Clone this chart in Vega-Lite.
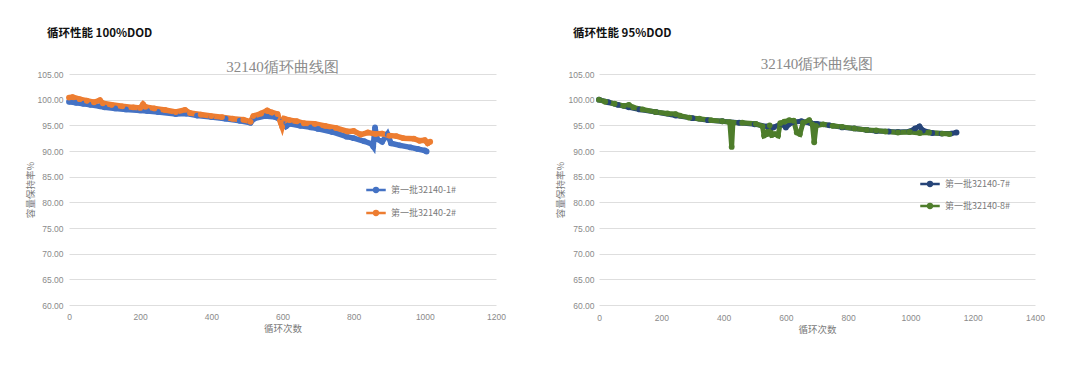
{
  "$schema": "https://vega.github.io/schema/vega-lite/v6.json",
  "background": "white",
  "padding": {"left": 25, "top": 27, "right": 10, "bottom": 5},
  "spacing": 49,
  "config": {
    "view": {"stroke": null},
    "axis": {"labelFont": "Liberation Sans", "labelFontSize": 8.5, "labelColor": "#8a8a8a", "titleFont": "Noto Sans CJK SC", "titleFontSize": 9.5, "titleFontWeight": "normal", "titleColor": "#7a7a7a", "ticks": false, "domain": false, "gridColor": "#dedede", "gridWidth": 1, "labelFlush": false},
    "legend": {"labelFont": "Noto Sans CJK SC", "labelFontSize": 9, "labelColor": "#7a7a7a", "symbolType": "M-1,0L1,0M-0.2,0a0.2,0.2 0 1,0 0.4,0a0.2,0.2 0 1,0 -0.4,0", "symbolSize": 380, "symbolStrokeWidth": 2.4, "title": null}
  },
  "datasets": {
    "d100": [
      {"cycle": 0, "capacity": 99.6, "series": "第一批32140-1#"},
      {"cycle": 20, "capacity": 99.4, "series": "第一批32140-1#"},
      {"cycle": 40, "capacity": 99.2, "series": "第一批32140-1#"},
      {"cycle": 60, "capacity": 99.0, "series": "第一批32140-1#"},
      {"cycle": 87, "capacity": 98.7, "series": "第一批32140-1#"},
      {"cycle": 100, "capacity": 98.5, "series": "第一批32140-1#"},
      {"cycle": 130, "capacity": 98.3, "series": "第一批32140-1#"},
      {"cycle": 160, "capacity": 98.1, "series": "第一批32140-1#"},
      {"cycle": 200, "capacity": 97.9, "series": "第一批32140-1#"},
      {"cycle": 220, "capacity": 97.8, "series": "第一批32140-1#"},
      {"cycle": 250, "capacity": 97.6, "series": "第一批32140-1#"},
      {"cycle": 300, "capacity": 97.2, "series": "第一批32140-1#"},
      {"cycle": 330, "capacity": 97.3, "series": "第一批32140-1#"},
      {"cycle": 360, "capacity": 96.9, "series": "第一批32140-1#"},
      {"cycle": 400, "capacity": 96.6, "series": "第一批32140-1#"},
      {"cycle": 440, "capacity": 96.3, "series": "第一批32140-1#"},
      {"cycle": 480, "capacity": 95.9, "series": "第一批32140-1#"},
      {"cycle": 510, "capacity": 95.5, "series": "第一批32140-1#"},
      {"cycle": 520, "capacity": 96.3, "series": "第一批32140-1#"},
      {"cycle": 550, "capacity": 96.8, "series": "第一批32140-1#"},
      {"cycle": 580, "capacity": 96.6, "series": "第一批32140-1#"},
      {"cycle": 600, "capacity": 95.8, "series": "第一批32140-1#"},
      {"cycle": 610, "capacity": 94.8, "series": "第一批32140-1#"},
      {"cycle": 620, "capacity": 95.3, "series": "第一批32140-1#"},
      {"cycle": 650, "capacity": 94.9, "series": "第一批32140-1#"},
      {"cycle": 680, "capacity": 94.6, "series": "第一批32140-1#"},
      {"cycle": 700, "capacity": 94.3, "series": "第一批32140-1#"},
      {"cycle": 740, "capacity": 93.7, "series": "第一批32140-1#"},
      {"cycle": 780, "capacity": 92.8, "series": "第一批32140-1#"},
      {"cycle": 800, "capacity": 92.5, "series": "第一批32140-1#"},
      {"cycle": 830, "capacity": 91.9, "series": "第一批32140-1#"},
      {"cycle": 850, "capacity": 91.4, "series": "第一批32140-1#"},
      {"cycle": 855, "capacity": 90.9, "series": "第一批32140-1#"},
      {"cycle": 860, "capacity": 94.6, "series": "第一批32140-1#"},
      {"cycle": 866, "capacity": 92.3, "series": "第一批32140-1#"},
      {"cycle": 880, "capacity": 91.8, "series": "第一批32140-1#"},
      {"cycle": 895, "capacity": 93.3, "series": "第一批32140-1#"},
      {"cycle": 905, "capacity": 91.5, "series": "第一批32140-1#"},
      {"cycle": 930, "capacity": 91.1, "series": "第一批32140-1#"},
      {"cycle": 960, "capacity": 90.7, "series": "第一批32140-1#"},
      {"cycle": 980, "capacity": 90.4, "series": "第一批32140-1#"},
      {"cycle": 1000, "capacity": 90.1, "series": "第一批32140-1#"},
      {"cycle": 1005, "capacity": 89.9, "series": "第一批32140-1#"},
      {"cycle": 0, "capacity": 100.4, "series": "第一批32140-2#"},
      {"cycle": 10, "capacity": 100.5, "series": "第一批32140-2#"},
      {"cycle": 30, "capacity": 100.1, "series": "第一批32140-2#"},
      {"cycle": 50, "capacity": 99.8, "series": "第一批32140-2#"},
      {"cycle": 70, "capacity": 99.5, "series": "第一批32140-2#"},
      {"cycle": 87, "capacity": 99.9, "series": "第一批32140-2#"},
      {"cycle": 95, "capacity": 99.3, "series": "第一批32140-2#"},
      {"cycle": 120, "capacity": 99.0, "series": "第一批32140-2#"},
      {"cycle": 150, "capacity": 98.7, "series": "第一批32140-2#"},
      {"cycle": 180, "capacity": 98.5, "series": "第一批32140-2#"},
      {"cycle": 200, "capacity": 98.4, "series": "第一批32140-2#"},
      {"cycle": 208, "capacity": 99.1, "series": "第一批32140-2#"},
      {"cycle": 215, "capacity": 98.6, "series": "第一批32140-2#"},
      {"cycle": 240, "capacity": 98.3, "series": "第一批32140-2#"},
      {"cycle": 270, "capacity": 98.0, "series": "第一批32140-2#"},
      {"cycle": 300, "capacity": 97.6, "series": "第一批32140-2#"},
      {"cycle": 326, "capacity": 98.0, "series": "第一批32140-2#"},
      {"cycle": 340, "capacity": 97.4, "series": "第一批32140-2#"},
      {"cycle": 370, "capacity": 97.1, "series": "第一批32140-2#"},
      {"cycle": 400, "capacity": 96.8, "series": "第一批32140-2#"},
      {"cycle": 430, "capacity": 96.6, "series": "第一批32140-2#"},
      {"cycle": 460, "capacity": 96.3, "series": "第一批32140-2#"},
      {"cycle": 490, "capacity": 96.1, "series": "第一批32140-2#"},
      {"cycle": 510, "capacity": 95.7, "series": "第一批32140-2#"},
      {"cycle": 518, "capacity": 96.8, "series": "第一批32140-2#"},
      {"cycle": 540, "capacity": 97.3, "series": "第一批32140-2#"},
      {"cycle": 557, "capacity": 97.9, "series": "第一批32140-2#"},
      {"cycle": 570, "capacity": 97.5, "series": "第一批32140-2#"},
      {"cycle": 586, "capacity": 97.2, "series": "第一批32140-2#"},
      {"cycle": 595, "capacity": 95.5, "series": "第一批32140-2#"},
      {"cycle": 599, "capacity": 94.7, "series": "第一批32140-2#"},
      {"cycle": 605, "capacity": 96.3, "series": "第一批32140-2#"},
      {"cycle": 620, "capacity": 96.0, "series": "第一批32140-2#"},
      {"cycle": 640, "capacity": 95.8, "series": "第一批32140-2#"},
      {"cycle": 660, "capacity": 95.4, "series": "第一批32140-2#"},
      {"cycle": 690, "capacity": 95.3, "series": "第一批32140-2#"},
      {"cycle": 720, "capacity": 94.9, "series": "第一批32140-2#"},
      {"cycle": 750, "capacity": 94.5, "series": "第一批32140-2#"},
      {"cycle": 783, "capacity": 93.8, "series": "第一批32140-2#"},
      {"cycle": 800, "capacity": 93.9, "series": "第一批32140-2#"},
      {"cycle": 820, "capacity": 93.2, "series": "第一批32140-2#"},
      {"cycle": 840, "capacity": 93.6, "series": "第一批32140-2#"},
      {"cycle": 862, "capacity": 93.3, "series": "第一批32140-2#"},
      {"cycle": 880, "capacity": 93.4, "series": "第一批32140-2#"},
      {"cycle": 900, "capacity": 93.0, "series": "第一批32140-2#"},
      {"cycle": 920, "capacity": 92.9, "series": "第一批32140-2#"},
      {"cycle": 940, "capacity": 92.5, "series": "第一批32140-2#"},
      {"cycle": 969, "capacity": 92.4, "series": "第一批32140-2#"},
      {"cycle": 985, "capacity": 92.0, "series": "第一批32140-2#"},
      {"cycle": 1000, "capacity": 92.1, "series": "第一批32140-2#"},
      {"cycle": 1008, "capacity": 91.5, "series": "第一批32140-2#"},
      {"cycle": 1015, "capacity": 91.8, "series": "第一批32140-2#"}
    ],
    "d95": [
      {"cycle": 0, "capacity": 100.0, "series": "第一批32140-7#"},
      {"cycle": 30, "capacity": 99.5, "series": "第一批32140-7#"},
      {"cycle": 60, "capacity": 99.0, "series": "第一批32140-7#"},
      {"cycle": 96, "capacity": 98.5, "series": "第一批32140-7#"},
      {"cycle": 130, "capacity": 98.1, "series": "第一批32140-7#"},
      {"cycle": 182, "capacity": 97.6, "series": "第一批32140-7#"},
      {"cycle": 246, "capacity": 96.9, "series": "第一批32140-7#"},
      {"cycle": 300, "capacity": 96.4, "series": "第一批32140-7#"},
      {"cycle": 350, "capacity": 96.0, "series": "第一批32140-7#"},
      {"cycle": 396, "capacity": 95.8, "series": "第一批32140-7#"},
      {"cycle": 450, "capacity": 95.5, "series": "第一批32140-7#"},
      {"cycle": 500, "capacity": 95.2, "series": "第一批32140-7#"},
      {"cycle": 540, "capacity": 94.8, "series": "第一批32140-7#"},
      {"cycle": 560, "capacity": 94.6, "series": "第一批32140-7#"},
      {"cycle": 585, "capacity": 95.3, "series": "第一批32140-7#"},
      {"cycle": 600, "capacity": 94.6, "series": "第一批32140-7#"},
      {"cycle": 620, "capacity": 95.6, "series": "第一批32140-7#"},
      {"cycle": 650, "capacity": 95.8, "series": "第一批32140-7#"},
      {"cycle": 680, "capacity": 95.4, "series": "第一批32140-7#"},
      {"cycle": 700, "capacity": 95.3, "series": "第一批32140-7#"},
      {"cycle": 740, "capacity": 95.0, "series": "第一批32140-7#"},
      {"cycle": 781, "capacity": 94.6, "series": "第一批32140-7#"},
      {"cycle": 820, "capacity": 94.4, "series": "第一批32140-7#"},
      {"cycle": 860, "capacity": 94.1, "series": "第一批32140-7#"},
      {"cycle": 890, "capacity": 93.9, "series": "第一批32140-7#"},
      {"cycle": 930, "capacity": 93.8, "series": "第一批32140-7#"},
      {"cycle": 960, "capacity": 93.7, "series": "第一批32140-7#"},
      {"cycle": 997, "capacity": 93.8, "series": "第一批32140-7#"},
      {"cycle": 1015, "capacity": 94.4, "series": "第一批32140-7#"},
      {"cycle": 1029, "capacity": 94.8, "series": "第一批32140-7#"},
      {"cycle": 1040, "capacity": 94.0, "series": "第一批32140-7#"},
      {"cycle": 1070, "capacity": 93.5, "series": "第一批32140-7#"},
      {"cycle": 1100, "capacity": 93.4, "series": "第一批32140-7#"},
      {"cycle": 1130, "capacity": 93.4, "series": "第一批32140-7#"},
      {"cycle": 1148, "capacity": 93.6, "series": "第一批32140-7#"},
      {"cycle": 0, "capacity": 100.0, "series": "第一批32140-8#"},
      {"cycle": 20, "capacity": 99.6, "series": "第一批32140-8#"},
      {"cycle": 50, "capacity": 99.2, "series": "第一批32140-8#"},
      {"cycle": 80, "capacity": 98.8, "series": "第一批32140-8#"},
      {"cycle": 96, "capacity": 99.0, "series": "第一批32140-8#"},
      {"cycle": 110, "capacity": 98.5, "series": "第一批32140-8#"},
      {"cycle": 140, "capacity": 98.1, "series": "第一批32140-8#"},
      {"cycle": 182, "capacity": 97.6, "series": "第一批32140-8#"},
      {"cycle": 220, "capacity": 97.3, "series": "第一批32140-8#"},
      {"cycle": 246, "capacity": 97.2, "series": "第一批32140-8#"},
      {"cycle": 260, "capacity": 96.9, "series": "第一批32140-8#"},
      {"cycle": 290, "capacity": 96.5, "series": "第一批32140-8#"},
      {"cycle": 322, "capacity": 96.3, "series": "第一批32140-8#"},
      {"cycle": 360, "capacity": 96.0, "series": "第一批32140-8#"},
      {"cycle": 396, "capacity": 95.8, "series": "第一批32140-8#"},
      {"cycle": 420, "capacity": 95.6, "series": "第一批32140-8#"},
      {"cycle": 426, "capacity": 90.8, "series": "第一批32140-8#"},
      {"cycle": 430, "capacity": 95.5, "series": "第一批32140-8#"},
      {"cycle": 460, "capacity": 95.5, "series": "第一批32140-8#"},
      {"cycle": 504, "capacity": 95.3, "series": "第一批32140-8#"},
      {"cycle": 525, "capacity": 94.8, "series": "第一批32140-8#"},
      {"cycle": 530, "capacity": 93.0, "series": "第一批32140-8#"},
      {"cycle": 540, "capacity": 93.3, "series": "第一批32140-8#"},
      {"cycle": 548, "capacity": 95.0, "series": "第一批32140-8#"},
      {"cycle": 555, "capacity": 93.1, "series": "第一批32140-8#"},
      {"cycle": 565, "capacity": 93.3, "series": "第一批32140-8#"},
      {"cycle": 575, "capacity": 93.0, "series": "第一批32140-8#"},
      {"cycle": 582, "capacity": 95.4, "series": "第一批32140-8#"},
      {"cycle": 595, "capacity": 95.7, "series": "第一批32140-8#"},
      {"cycle": 611, "capacity": 96.0, "series": "第一批32140-8#"},
      {"cycle": 625, "capacity": 95.9, "series": "第一批32140-8#"},
      {"cycle": 635, "capacity": 93.6, "series": "第一批32140-8#"},
      {"cycle": 645, "capacity": 93.3, "series": "第一批32140-8#"},
      {"cycle": 655, "capacity": 95.5, "series": "第一批32140-8#"},
      {"cycle": 675, "capacity": 96.0, "series": "第一批32140-8#"},
      {"cycle": 685, "capacity": 95.2, "series": "第一批32140-8#"},
      {"cycle": 691, "capacity": 91.7, "series": "第一批32140-8#"},
      {"cycle": 697, "capacity": 94.9, "series": "第一批32140-8#"},
      {"cycle": 720, "capacity": 95.2, "series": "第一批32140-8#"},
      {"cycle": 750, "capacity": 94.9, "series": "第一批32140-8#"},
      {"cycle": 781, "capacity": 94.7, "series": "第一批32140-8#"},
      {"cycle": 820, "capacity": 94.4, "series": "第一批32140-8#"},
      {"cycle": 860, "capacity": 94.1, "series": "第一批32140-8#"},
      {"cycle": 890, "capacity": 94.0, "series": "第一批32140-8#"},
      {"cycle": 920, "capacity": 93.8, "series": "第一批32140-8#"},
      {"cycle": 960, "capacity": 93.6, "series": "第一批32140-8#"},
      {"cycle": 997, "capacity": 93.7, "series": "第一批32140-8#"},
      {"cycle": 1030, "capacity": 93.5, "series": "第一批32140-8#"},
      {"cycle": 1060, "capacity": 93.6, "series": "第一批32140-8#"},
      {"cycle": 1103, "capacity": 93.4, "series": "第一批32140-8#"},
      {"cycle": 1125, "capacity": 93.3, "series": "第一批32140-8#"}
    ]
  },
  "resolve": {"scale": {"x": "independent", "y": "independent", "color": "independent"}, "legend": {"color": "independent"}},
  "hconcat": [
    {
      "title": {"text": "循环性能 100%DOD", "anchor": "start", "font": "Noto Sans CJK SC", "fontSize": 11.5, "fontWeight": "bold", "color": "#111111", "dx": 22, "offset": 21},
      "vconcat": [
        {
          "title": {"text": "32140循环曲线图", "font": "Liberation Serif", "fontSize": 15, "fontWeight": "normal", "color": "#8a8a8a", "offset": -5},
          "width": 427,
          "height": 231,
          "data": {"name": "d100"},
          "mark": {"type": "line", "strokeWidth": 5.5, "point": {"filled": true, "size": 34}},
          "encoding": {
            "x": {"field": "cycle", "type": "quantitative", "scale": {"domain": [0, 1200], "nice": false}, "axis": {"values": [0, 200, 400, 600, 800, 1000, 1200], "format": "d", "grid": false, "title": "循环次数", "labelPadding": 7, "titlePadding": 3}},
            "y": {"field": "capacity", "type": "quantitative", "scale": {"domain": [60, 105], "nice": false, "zero": false}, "axis": {"values": [60, 65, 70, 75, 80, 85, 90, 95, 100, 105], "format": ".2f", "title": "容量保持率%", "labelPadding": 6, "titlePadding": 2}},
            "color": {"field": "series", "type": "nominal", "scale": {"domain": ["第一批32140-1#", "第一批32140-2#"], "range": ["#4472C4", "#ED7D31"]}, "legend": {"orient": "none", "legendX": 296, "legendY": 105, "rowPadding": 5}}
          }
        }
      ]
    },
    {
      "title": {"text": "循环性能 95%DOD", "anchor": "start", "font": "Noto Sans CJK SC", "fontSize": 11.5, "fontWeight": "bold", "color": "#111111", "dx": 18, "offset": 18},
      "vconcat": [
        {
          "title": {"text": "32140循环曲线图", "font": "Liberation Serif", "fontSize": 15, "fontWeight": "normal", "color": "#8a8a8a", "offset": -2},
          "width": 436,
          "height": 231,
          "data": {"name": "d95"},
          "mark": {"type": "line", "strokeWidth": 5, "point": {"filled": true, "size": 34}},
          "encoding": {
            "x": {"field": "cycle", "type": "quantitative", "scale": {"domain": [0, 1400], "nice": false}, "axis": {"values": [0, 200, 400, 600, 800, 1000, 1200, 1400], "format": "d", "grid": false, "title": "循环次数", "labelPadding": 8, "titlePadding": 3}},
            "y": {"field": "capacity", "type": "quantitative", "scale": {"domain": [60, 105], "nice": false, "zero": false}, "axis": {"values": [60, 65, 70, 75, 80, 85, 90, 95, 100, 105], "format": ".2f", "title": "容量保持率%", "labelPadding": 5, "titlePadding": 3}},
            "color": {"field": "series", "type": "nominal", "scale": {"domain": ["第一批32140-7#", "第一批32140-8#"], "range": ["#264478", "#4E7D2B"]}, "legend": {"orient": "none", "legendX": 320, "legendY": 99, "rowPadding": 4}}
          }
        }
      ]
    }
  ]
}
